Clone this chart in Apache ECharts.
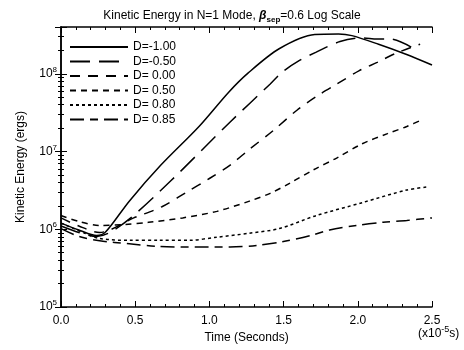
<!DOCTYPE html>
<html>
<head>
<meta charset="utf-8">
<script src="https://cdn.jsdelivr.net/npm/echarts@6/dist/echarts.min.js"></script>
<style>
    html, body { margin: 0; padding: 0; background: #fff; }
    #main { width: 464px; height: 350px; }
</style>
</head>
<body>
<div id="main"></div>
<script>
    // 数据 (时间单位 1e-5 s, 能量 ergs)
    var names = ['D=-1.00', 'D=-0.50', 'D= 0.00', 'D= 0.50', 'D= 0.80', 'D= 0.85'];

    var tM100 = [0, 0.12, 0.24, 0.30, 0.46, 0.67, 0.93, 1.13, 1.26, 1.47, 1.71, 1.87, 1.96, 2.14, 2.32, 2.50];
    var eM100 = [1.2e6, 9.8e5, 8.3e5, 9.2e5, 2.3e6, 6.6e6, 2.1e7, 5.8e7, 1.02e8, 2.1e8, 3.2e8, 3.25e8, 3.1e8, 2.4e8, 1.8e8, 1.3e8];

    var tM050 = [0, 0.12, 0.24, 0.32, 0.47, 0.74, 1.14, 1.41, 1.49, 1.61, 1.72, 1.88, 2.03, 2.13, 2.22, 2.36];
    var eM050 = [1.1e6, 9.1e5, 8.1e5, 8.9e5, 1.4e6, 4.2e6, 2.4e7, 7.4e7, 1.05e8, 1.5e8, 1.9e8, 2.6e8, 2.9e8, 2.8e8, 2.8e8, 2.2e8];

    var tP000 = [0, 0.12, 0.26, 0.49, 0.68, 0.84, 1.00, 1.14, 1.27, 1.43, 1.59, 1.72, 1.86, 2.01, 2.13, 2.26, 2.42];
    var eP000 = [1.4e6, 1.1e6, 9.1e5, 1.4e6, 1.95e6, 2.95e6, 4.5e6, 6.7e6, 1.07e7, 1.86e7, 3.4e7, 5.1e7, 7.4e7, 1.1e8, 1.4e8, 1.85e8, 2.4e8];

    var tP050 = [0, 0.12, 0.26, 0.43, 0.59, 0.82, 1.05, 1.27, 1.41, 1.54, 1.70, 1.86, 2.03, 2.20, 2.33, 2.44];
    var eP050 = [1.5e6, 1.26e6, 1.12e6, 1.15e6, 1.23e6, 1.4e6, 1.7e6, 2.3e6, 2.9e6, 3.9e6, 5.8e6, 8.3e6, 1.26e7, 1.7e7, 2.1e7, 2.6e7];

    var tP080 = [0, 0.16, 0.26, 0.46, 0.66, 0.86, 1.05, 1.27, 1.47, 1.72, 2.03, 2.33, 2.47];
    var eP080 = [1.2e6, 8.9e5, 7.6e5, 7.2e5, 7.2e5, 7.2e5, 7.9e5, 8.9e5, 1.02e6, 1.5e6, 2.2e6, 3.2e6, 3.5e6];

    var tP085 = [0, 0.12, 0.26, 0.46, 0.66, 0.93, 1.14, 1.32, 1.49, 1.68, 1.81, 1.99, 2.17, 2.33, 2.50];
    var eP085 = [1.02e6, 8.1e5, 7.1e5, 6.5e5, 6.0e5, 5.9e5, 5.9e5, 6.2e5, 6.9e5, 8.3e5, 9.8e5, 1.12e6, 1.23e6, 1.3e6, 1.4e6];

    var xTicks = [0, 0.5, 1.0, 1.5, 2.0, 2.5];

    var dashes = ['solid', [20, 9], [10, 8], [6, 5], [3, 3], [14, 6, 8, 6]];

    function pairs(t, e) {
        var out = [];
        t.forEach(function (v, i) { out.push([v, e[i]]); });
        return out;
    }

    var allData = [
        pairs(tM100, eM100), pairs(tM050, eM050), pairs(tP000, eP000),
        pairs(tP050, eP050), pairs(tP080, eP080), pairs(tP085, eP085)
    ];

    var font = 'Liberation Sans';

    var series = [];
    names.forEach(function (n, i) {
        series.push({
            name: n,
            type: 'line',
            smooth: 0.3,
            symbol: 'none',
            data: allData[i],
            lineStyle: { color: '#000', width: 1.5, type: dashes[i] },
            itemStyle: { color: '#000' }
        });
    });

    var yFmt = function (v) {
        var p = Math.round(Math.log10(v));
        if (Math.abs(Math.log10(v) - p) > 0.001) return '';
        return '{b|10}{e|' + p + '}';
    };

    var myChart = echarts.init(document.getElementById('main'));
    var option = {
        backgroundColor: '#fff',
        animation: false,
        title: {
            text: '{a|Kinetic Energy in N=1 Mode, }{g|β}{s|sep}{a|=0.6 Log Scale}',
            left: 'center',
            top: 3,
            textStyle: {
                fontWeight: 'normal',
                rich: {
                    a: { fontFamily: font, fontSize: 12, color: '#000', fontWeight: 'normal' },
                    g: { fontFamily: font, fontSize: 12, color: '#000', fontStyle: 'italic', fontWeight: 'bold' },
                    s: { fontFamily: font, fontSize: 8, color: '#000', fontWeight: 'bold', padding: [8, 0, 0, 0] }
                }
            }
        },
        legend: {
            orient: 'vertical',
            left: 64,
            top: 36,
            itemWidth: 58,
            itemHeight: 13,
            itemGap: 2.5,
            data: names,
            itemStyle: { opacity: 0 },
            textStyle: { fontFamily: font, fontSize: 12, color: '#000' }
        },
        grid: { left: 61, right: 32, top: 27, bottom: 43 },
        xAxis: [{
            type: 'value',
            min: 0,
            max: 2.5,
            interval: 0.5,
            name: 'Time (Seconds)',
            nameLocation: 'middle',
            nameGap: 25,
            nameTextStyle: { fontFamily: font, fontSize: 12, color: '#000' },
            axisLine: { lineStyle: { color: '#000', width: 1.5 } },
            axisTick: { inside: true, length: 6, lineStyle: { color: '#000' } },
            minorTick: { show: true, splitNumber: 5, length: 3, lineStyle: { color: '#000' } },
            splitLine: { show: false },
            axisLabel: {
                margin: 8,
                fontFamily: font, fontSize: 12, color: '#000',
                formatter: function (v) {
                    return xTicks.indexOf(v) >= 0 ? v.toFixed(1) : '';
                }
            }
        }, {
            type: 'value',
            position: 'top',
            min: 0,
            max: 2.5,
            interval: 0.5,
            axisLine: { lineStyle: { color: '#000', width: 1.5 } },
            axisTick: { inside: true, length: 6, lineStyle: { color: '#000' } },
            minorTick: { show: true, splitNumber: 5, length: 3, lineStyle: { color: '#000' } },
            splitLine: { show: false },
            axisLabel: { show: false }
        }],
        yAxis: [{
            type: 'log',
            min: 1e5,
            max: 4e8,
            name: 'Kinetic Energy (ergs)',
            nameLocation: 'middle',
            nameGap: 34,
            nameTextStyle: { fontFamily: font, fontSize: 12, color: '#000' },
            axisLine: { lineStyle: { color: '#000', width: 1.5 } },
            axisTick: { inside: true, length: 6, lineStyle: { color: '#000' } },
            minorTick: { show: true, splitNumber: 9, length: 3, lineStyle: { color: '#000' } },
            splitLine: { show: false },
            axisLabel: {
                margin: 4,
                formatter: yFmt,
                rich: {
                    b: { fontFamily: font, fontSize: 12, color: '#000' },
                    e: { fontFamily: font, fontSize: 8, color: '#000', padding: [0, 0, 8, 0] }
                }
            }
        }, {
            type: 'log',
            position: 'right',
            min: 1e5,
            max: 4e8,
            axisLine: { lineStyle: { color: '#000', width: 1.5 } },
            axisTick: { inside: true, length: 6, lineStyle: { color: '#000' } },
            minorTick: { show: true, splitNumber: 9, length: 3, lineStyle: { color: '#000' } },
            splitLine: { show: false },
            axisLabel: { show: false }
        }],
        graphic: [{
            type: 'text',
            left: 418,
            top: 325,
            style: {
                text: '{a|(x10}{e|-5}{a|s)}',
                rich: {
                    a: { fontFamily: font, fontSize: 12, fill: '#000' },
                    e: { fontFamily: font, fontSize: 9, fill: '#000', padding: [0, 0, 8, 0] }
                }
            }
        }],
        series: series
    };
    myChart.setOption(option);
</script>
</body>
</html>
